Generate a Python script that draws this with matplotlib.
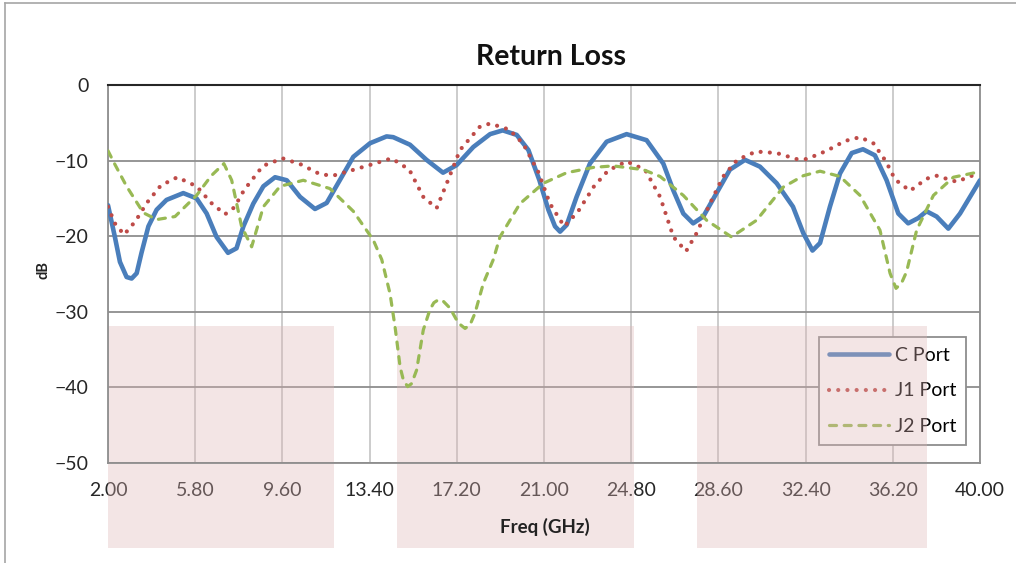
import numpy as np
import matplotlib
matplotlib.use('Agg')
import matplotlib.pyplot as plt
from matplotlib.patches import Rectangle
from matplotlib.lines import Line2D

###############################################################
#   Datos (frecuencia en GHz, perdida en dB)
###############################################################
c_freq = [2.0, 2.3, 2.52, 2.81, 3.03, 3.25, 3.46, 3.76, 4.12, 4.55, 5.28, 5.86, 6.3,
          6.73, 7.23, 7.6, 7.9, 8.33, 8.77, 9.28, 9.79, 10.37, 11.02, 11.53, 12.1,
          12.69, 13.42, 14.14, 14.43, 15.16, 15.88, 16.6, 17.19, 17.92, 18.65, 19.2,
          19.81, 20.32, 20.8, 21.19, 21.48, 21.7, 21.99, 22.42, 23.0, 23.73, 24.6,
          25.47, 26.2, 26.63, 27.07, 27.5, 27.94, 28.52, 29.1, 29.76, 30.41, 31.14,
          31.85, 32.3, 32.7, 33.03, 33.46, 33.9, 34.41, 34.9, 35.42, 35.93, 36.44,
          36.87, 37.31, 37.67, 38.11, 38.62, 39.13, 40.0]
c_db = [-15.9, -20.1, -23.4, -25.4, -25.6, -24.9, -22.2, -18.7, -16.5, -15.2, -14.3,
        -15.0, -17.0, -20.1, -22.2, -21.6, -18.7, -15.7, -13.4, -12.2, -12.6, -14.8,
        -16.4, -15.6, -12.6, -9.5, -7.7, -6.8, -6.9, -7.9, -9.9, -11.6, -10.6, -8.2,
        -6.5, -6.0, -6.6, -8.6, -12.6, -16.5, -18.7, -19.4, -18.5, -14.8, -10.4, -7.5,
        -6.5, -7.3, -10.4, -13.9, -17.0, -18.3, -17.4, -14.3, -11.2, -9.9, -10.8,
        -13.0, -16.1, -19.6, -21.9, -20.9, -16.1, -11.7, -9.0, -8.5, -9.3, -12.6,
        -17.0, -18.3, -17.6, -16.7, -17.4, -19.0, -17.0, -12.6]

j1_freq = [2.0, 2.3, 2.7, 3.2, 3.69, 4.3, 5.02, 5.86, 6.5, 7.1, 7.5, 7.93, 8.75, 9.61,
           10.4, 11.24, 11.8, 12.6, 13.5, 14.36, 15.13, 15.74, 16.32, 16.83, 17.34,
           18.21, 18.65, 19.49, 20.1, 20.75, 21.26, 21.88, 22.47, 23.18, 23.8, 24.6,
           25.4, 26.06, 26.64, 27.19, 27.65, 28.2, 28.81, 29.42, 30.24, 31.14, 32.01,
           32.45, 33.32, 34.12, 34.77, 35.35, 35.9, 36.3, 36.95, 37.67, 38.1, 38.98,
           39.82, 40.0]
j1_db = [-16.1, -18.3, -19.8, -18.0, -15.6, -13.3, -12.2, -13.4, -15.6, -17.1, -16.2,
         -13.9, -10.7, -9.7, -10.5, -11.8, -12.0, -11.3, -10.5, -9.7, -11.2, -14.8,
         -16.3, -12.5, -8.6, -5.5, -5.1, -5.9, -7.8, -11.5, -15.7, -18.7, -16.8, -13.4,
         -11.3, -10.1, -11.2, -14.8, -20.1, -22.0, -19.6, -15.9, -12.1, -9.9, -8.8,
         -9.0, -9.8, -9.8, -8.7, -7.4, -6.9, -7.7, -10.1, -12.5, -14.0, -12.4, -12.0,
         -12.8, -11.8, -11.7]

j2_freq = [2.0, 2.3, 2.81, 3.54, 4.12, 4.92, 5.86, 6.5, 7.05, 7.39, 7.82, 8.26, 8.77,
           9.5, 10.51, 11.67, 12.69, 13.56, 13.93, 14.29, 14.51, 14.73, 14.87, 15.06,
           15.23, 15.45, 15.74, 16.03, 16.2, 16.4, 16.61, 16.9, 17.27, 17.56, 17.78,
           17.99, 18.36, 18.79, 19.08, 19.95, 20.97, 21.99, 23.15, 24.02, 25.33, 26.06,
           27.07, 28.09, 29.17, 30.26, 31.43, 32.3, 33.03, 33.9, 34.77, 35.64, 36.08,
           36.34, 36.58, 36.8, 37.24, 37.97, 38.84, 39.78, 40.0]
j2_db = [-8.7, -10.5, -13.4, -16.9, -17.8, -17.4, -14.6, -12.0, -10.4, -12.6, -18.7,
         -21.4, -16.1, -13.4, -12.6, -13.7, -16.7, -20.5, -23.1, -27.6, -32.0, -37.3,
         -39.0, -39.9, -39.5, -37.7, -32.4, -29.7, -28.8, -28.4, -28.6, -29.5, -31.5,
         -32.2, -31.7, -30.2, -26.2, -23.1, -20.1, -15.7, -13.0, -11.6, -10.9, -10.7,
         -11.2, -12.1, -14.6, -17.9, -20.1, -17.9, -13.5, -12.0, -11.4, -12.1, -14.6,
         -19.2, -24.9, -26.9, -26.2, -24.7, -19.2, -14.6, -12.2, -11.6, -11.6]

x_ticks = [2.0, 5.8, 9.6, 13.4, 17.2, 21.0, 24.8, 28.6, 32.4, 36.2, 40.0]
y_ticks = [0, -10, -20, -30, -40, -50]

# bandas sombreadas (pixeles de la figura: x0, x1)
bandas = [(108, 334), (397, 634), (697, 927)]

###############################################################
plt.rcParams['font.family'] = ['Lato', 'DejaVu Sans']
W, H = 1016, 563
fig = plt.figure(figsize=(W / 100, H / 100), dpi=100)
ax = fig.add_axes([108 / W, 1 - 463 / H, (980 - 108) / W, (463 - 85) / H])

ax.plot(c_freq, c_db, color='#4A7EBB', lw=3.3, solid_capstyle='round',
        solid_joinstyle='round', label='C Port', zorder=3)
ax.plot(j1_freq, j1_db, color='#BE4B48', lw=3.0, linestyle=(0, (0.01, 2.2)),
        dash_capstyle='round', label='J1 Port', zorder=3)
ax.plot(j2_freq, j2_db, color='#98B954', lw=2.3, linestyle=(0, (2.2, 2.4)),
        dash_capstyle='round', label='J2 Port', zorder=3)

ax.set_xlim(2, 40)
ax.set_ylim(-50, 0)
ax.set_xticks(x_ticks)
ax.set_xticklabels(['%.2f' % v for v in x_ticks])
ax.set_yticks(y_ticks)
ax.tick_params(length=0, labelsize=14, colors='#262626')
ax.tick_params(axis='x', pad=14)
ax.tick_params(axis='y', pad=14)

ax.grid(axis='y', color='#8E8E8E', lw=1.3)
ax.grid(axis='x', color='#C8C8C8', lw=1.3)
for s in ['left', 'bottom', 'right']:
    ax.spines[s].set_color('#8E8E8E')
    ax.spines[s].set_linewidth(1.3)
ax.spines['top'].set_color('#262626')
ax.spines['top'].set_linewidth(1.5)

# titulos y etiquetas de ejes
fig.text(551 / W, 1 - 57 / H, 'Return Loss', fontsize=20.5, fontweight='bold',
         color='#111111', ha='center', va='center')
fig.text(545 / W, 1 - 527 / H, 'Freq (GHz)', fontsize=13.5, fontweight='bold',
         color='#222222', ha='center', va='center')
fig.text(44 / W, 1 - 270 / H, 'dB', fontsize=10.5, fontweight='bold', rotation=90,
         color='#222222', ha='center', va='center')

leg = ax.legend(loc='upper right', bbox_to_anchor=(0.984, 0.333), fontsize=14,
                frameon=True, fancybox=False, edgecolor='#8E8E8E', framealpha=1,
                handlelength=3.1, handletextpad=0.3, labelspacing=0.95,
                borderpad=0.5, borderaxespad=0)
leg.get_frame().set_linewidth(1.3)
leg.set_zorder(1.52)

# bandas rosas, por encima de la leyenda y debajo de las curvas
for x0, x1 in bandas:
    r = Rectangle((x0 / W, 1 - 548 / H), (x1 - x0) / W, (548 - 326) / H,
                  transform=fig.transFigure, facecolor='#DDB5B5', alpha=0.35,
                  edgecolor='none', clip_on=False, zorder=1.55)
    ax.add_patch(r)

# borde del area del grafico
fig.add_artist(Line2D([5 / W, 5 / W], [0, 1 - 3 / H], color='#A6A6A6', lw=1.2))
fig.add_artist(Line2D([5 / W, 1], [1 - 3 / H, 1 - 3 / H], color='#A6A6A6', lw=1.2))

fig.savefig('out.png', dpi=100)
